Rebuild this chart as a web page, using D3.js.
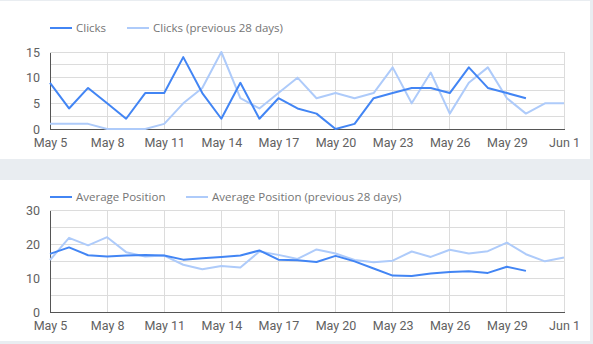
<!DOCTYPE html>
<html><head><meta charset="utf-8">
<script src="https://cdn.jsdelivr.net/npm/d3@7"></script>
<style>
html,body{margin:0;padding:0;background:#e9edf1;}
svg{display:block;}
</style></head>
<body>
<svg id="c" width="593" height="344"></svg>
<script>
const startDate = "2024-05-05";
const xTickLabels = ["May 5","May 8","May 11","May 14","May 17","May 20","May 23","May 26","May 29","Jun 1"];
const clicks = [9,4,8,5,2,7,7,14,7,2,9,2,6,4,3,0,1,6,7,8,8,7,12,8,7,6];
const clicksPrev = [1,1,1,0,0,0,1,5,8,15,6,4,7,10,6,7,6,7,12,5,11,3,9,12,6,3,5,5];
const position = [17.1,19.0,16.7,16.3,16.6,16.8,16.6,15.4,15.8,16.2,16.6,18.1,15.4,15.2,14.7,16.5,14.9,12.8,10.7,10.6,11.3,11.8,12.0,11.5,13.3,12.1];
const positionPrev = [15.3,21.8,19.6,22.0,17.6,16.3,16.6,13.9,12.6,13.5,13.1,17.8,16.8,15.6,18.4,17.2,15.3,14.6,15.1,17.8,16.2,18.3,17.2,17.9,20.4,17.0,14.9,16.0];
const clicksTicks = [0,5,10,15];
const positionTicks = [0,10,20,30];

const C1 = "#4285f4", C2 = "#aecbfa";
const svg = d3.select("#c");
const day0 = new Date(startDate + "T00:00:00");
const dateOf = i => d3.timeDay.offset(day0, i);
const x = d3.scaleTime().domain([day0, dateOf(27)]).range([50, 564]);
const xTickDates = xTickLabels.map((_, i) => dateOf(i * 3));

// panels
svg.append("rect").attr("x",0).attr("y",1).attr("width",590).attr("height",158).attr("fill","#fff");
svg.append("rect").attr("x",0).attr("y",180).attr("width",590).attr("height",161).attr("fill","#fff");

function chart(cfg) {
  const g = svg.append("g");
  const y = d3.scaleLinear().domain([0, cfg.max]).range([cfg.bottom, cfg.top]);
  const gridVals = d3.range(0, cfg.max + 1e-9, cfg.gridStep);
  g.selectAll(".hg").data(gridVals).join("line")
    .attr("x1", 50).attr("x2", 564)
    .attr("y1", d => y(d)).attr("y2", d => y(d))
    .attr("stroke", "#dcdcdc").attr("stroke-width", 1).attr("shape-rendering","crispEdges");
  g.selectAll(".vg").data(xTickDates).join("line")
    .attr("x1", d => x(d)).attr("x2", d => x(d))
    .attr("y1", cfg.top).attr("y2", cfg.bottom)
    .attr("stroke", "#dcdcdc").attr("stroke-width", 1).attr("shape-rendering","crispEdges");
  const yAxis = d3.axisLeft(y).tickValues(cfg.ticks).tickSize(0).tickPadding(10);
  const ya = g.append("g").attr("transform","translate(50,0)").call(yAxis);
  ya.select(".domain").attr("stroke","#555").attr("shape-rendering","crispEdges");
  ya.selectAll("text").attr("font-family","Roboto").attr("font-size",12.5).attr("fill","#616161");
  const xAxis = d3.axisBottom(x).tickValues(xTickDates).tickSize(0).tickPadding(9)
    .tickFormat((d, i) => xTickLabels[i]);
  const xa = g.append("g").attr("transform",`translate(0,${cfg.bottom})`).call(xAxis);
  xa.select(".domain").attr("stroke","#555").attr("shape-rendering","crispEdges");
  xa.selectAll("text").attr("font-family","Roboto").attr("font-size",12.5).attr("fill","#616161");
  const line = d3.line().x((d, i) => x(dateOf(i))).y(d => y(d));
  g.append("path").attr("d", line(cfg.prev)).attr("fill","none").attr("stroke",C2).attr("stroke-width",2).attr("stroke-linejoin","round");
  g.append("path").attr("d", line(cfg.cur)).attr("fill","none").attr("stroke",C1).attr("stroke-width",2).attr("stroke-linejoin","round");
  const lg = g.append("g").attr("transform",`translate(0,${cfg.legendY})`);
  cfg.legend.forEach((l, i) => {
    lg.append("line").attr("x1", l.x).attr("x2", l.x + 22).attr("y1", 0).attr("y2", 0)
      .attr("stroke", i === 0 ? C1 : C2).attr("stroke-width", 2);
    lg.append("text").attr("x", l.x + 26).attr("y", 0).attr("dy","0.35em")
      .attr("font-family","Open Sans").attr("font-size",11.5).attr("fill","#757575").text(l.text);
  });
}

chart({max:15, gridStep:2.5, ticks:clicksTicks, top:52, bottom:129, cur:clicks, prev:clicksPrev,
  legendY:28, legend:[{x:50,text:"Clicks"},{x:127,text:"Clicks (previous 28 days)"}]});
chart({max:30, gridStep:5, ticks:positionTicks, top:210, bottom:312, cur:position, prev:positionPrev,
  legendY:197, legend:[{x:50,text:"Average Position"},{x:186,text:"Average Position (previous 28 days)"}]});
</script>
</body></html>
